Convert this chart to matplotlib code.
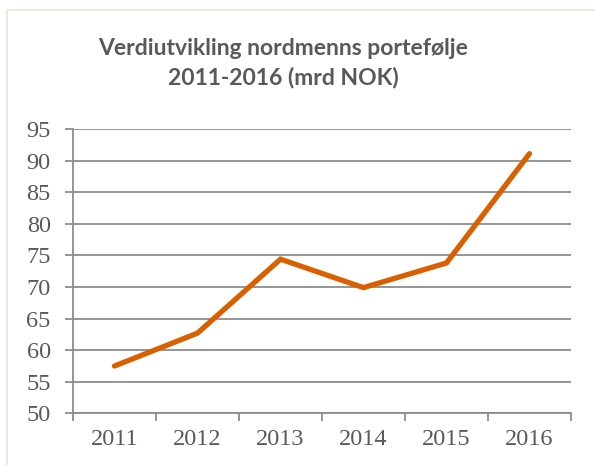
import numpy as np
import matplotlib
matplotlib.use("Agg")
import matplotlib.pyplot as plt
from matplotlib.patches import Rectangle

years = ["2011", "2012", "2013", "2014", "2015", "2016"]
values = [57.5, 62.7, 74.4, 69.9, 73.8, 91.1]
y_ticks = [50, 55, 60, 65, 70, 75, 80, 85, 90, 95]
title = "Verdiutvikling nordmenns portefølje\n2011-2016 (mrd NOK)"

W, H = 595, 465
fig = plt.figure(figsize=(W / 100, H / 100), dpi=100)

# ytre ramme (beskåret til høyre/nederst)
fig.patches.append(Rectangle((7 / W, -0.1), 1.2, 1 - 10 / H + 0.1, transform=fig.transFigure,
                             fill=False, edgecolor="#ebe8dd", linewidth=1.5))

ax = fig.add_axes([73 / W, 1 - 413.4 / H, 498 / W, (413.4 - 129) / H])
grid_c = "#8c8c8c"
x = np.arange(len(years))
ax.plot(x, values, color="#d96000", linewidth=3.8, solid_capstyle="round",
        solid_joinstyle="miter", zorder=3)

ax.set_xlim(-0.5, len(years) - 0.5)
ax.set_ylim(50, 95)
ax.set_yticks(y_ticks)
ax.yaxis.grid(True, color=grid_c, linewidth=1.3)
ax.set_axisbelow(True)

ax.set_xticks(np.arange(-0.5, len(years), 1.0))
ax.set_xticklabels([])
ax.set_xticks(x, minor=True)
ax.set_xticklabels(years, minor=True)

for s in ["top", "right"]:
    ax.spines[s].set_visible(False)
for s in ["left", "bottom"]:
    ax.spines[s].set_color(grid_c)
    ax.spines[s].set_linewidth(1.3)

lab = dict(family="Liberation Serif", size=17.5, color="#595959")
ax.tick_params(axis="y", length=6, width=1.3, color=grid_c, pad=10)
ax.tick_params(axis="x", which="major", length=6, width=1.3, color=grid_c)
ax.tick_params(axis="x", which="minor", length=0, pad=11)
for t in ax.get_yticklabels() + ax.get_xticklabels(minor=True):
    t.set_fontfamily(lab["family"])
    t.set_fontsize(lab["size"])
    t.set_color(lab["color"])

fig.text(283 / W, 1 - 63 / H, title, ha="center", va="center", fontsize=16.5,
         fontweight="bold", family="Lato", color="#595959", linespacing=1.4)

fig.savefig("out.png", dpi=100, facecolor="white")
